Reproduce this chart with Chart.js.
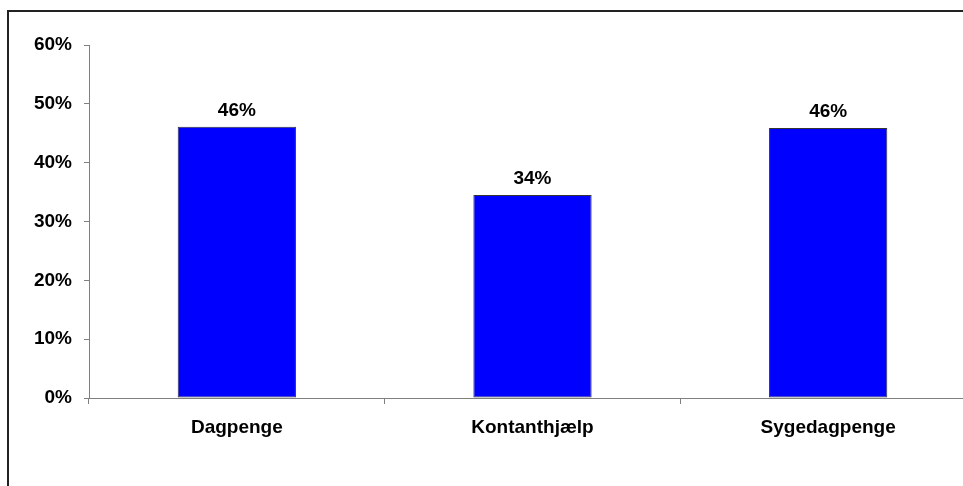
<!DOCTYPE html>
<html lang="da">
<head>
  <meta charset="UTF-8">
  <title>Andel</title>
  <style>
    body {
      margin: 0;
      padding: 0;
      overflow: hidden;
      background-color: #fff;
    }
    #wrap {
      width: 1000px;
      height: 486px;
    }
  </style>
  <script src="https://cdn.jsdelivr.net/npm/chart.js"></script>
</head>
<body>
  <div id="wrap">
    <canvas id="barChart" width="1000" height="486"></canvas>
  </div>
  <script>
    var kategorier = ['Dagpenge', 'Kontanthjælp', 'Sygedagpenge'];
    var andele = [46.1, 34.5, 45.9];
    var etiketter = ['46%', '34%', '46%'];
    var yTicks = [0, 10, 20, 30, 40, 50, 60];

    var fontBold = { family: 'Liberation Sans, Arial, sans-serif', size: 19, weight: 'bold' };

    // ramme rundt om diagrammet
    var rammePlugin = {
      id: 'ramme',
      beforeDraw: function(chart) {
        var ctx = chart.ctx;
        ctx.save();
        ctx.fillStyle = '#fff';
        ctx.fillRect(0, 0, chart.width, chart.height);
        ctx.strokeStyle = '#222';
        ctx.lineWidth = 2;
        ctx.strokeRect(8, 11, 1200, 600);
        ctx.restore();
      }
    };

    // værdier over søjlerne
    var labelPlugin = {
      id: 'vaerdier',
      afterDatasetsDraw: function(chart) {
        var ctx = chart.ctx;
        var meta = chart.getDatasetMeta(0);
        ctx.save();
        ctx.fillStyle = '#000';
        ctx.font = 'bold 19px "Liberation Sans", Arial, sans-serif';
        ctx.textAlign = 'center';
        ctx.textBaseline = 'alphabetic';
        meta.data.forEach(function(bar, i) {
          ctx.fillText(etiketter[i], bar.x, bar.y - 11);
        });
        ctx.restore();
      }
    };

    var ctx = document.getElementById('barChart').getContext('2d');
    new Chart(ctx, {
      type: 'bar',
      data: {
        labels: kategorier,
        datasets: [{
          data: andele,
          backgroundColor: '#0000ff',
          borderColor: '#333',
          borderWidth: 1,
          borderSkipped: false,
          barPercentage: 0.4,
          categoryPercentage: 1.0
        }]
      },
      options: {
        responsive: false,
        animation: false,
        layout: { padding: { left: 0, top: 45, right: 24, bottom: 0 } },
        plugins: {
          legend: { display: false },
          tooltip: { enabled: false }
        },
        scales: {
          x: {
            offset: true,
            grid: {
              offset: true,
              drawOnChartArea: false,
              drawTicks: true,
              tickLength: 6,
              color: '#808080'
            },
            border: { display: true, color: '#808080', width: 1 },
            ticks: {
              color: '#000',
              font: fontBold,
              padding: 12
            },
            afterFit: function(scale) { scale.height = 88; }
          },
          y: {
            min: 0,
            max: 60,
            afterBuildTicks: function(scale) {
              scale.ticks = yTicks.map(function(v) { return { value: v }; });
            },
            grid: {
              drawOnChartArea: false,
              drawTicks: true,
              tickLength: 5,
              color: '#808080'
            },
            border: { display: true, color: '#808080', width: 1 },
            ticks: {
              color: '#000',
              font: fontBold,
              padding: 12,
              callback: function(v) { return v + '%'; }
            },
            afterFit: function(scale) { scale.width = 89; }
          }
        }
      },
      plugins: [rammePlugin, labelPlugin]
    });
  </script>
</body>
</html>
